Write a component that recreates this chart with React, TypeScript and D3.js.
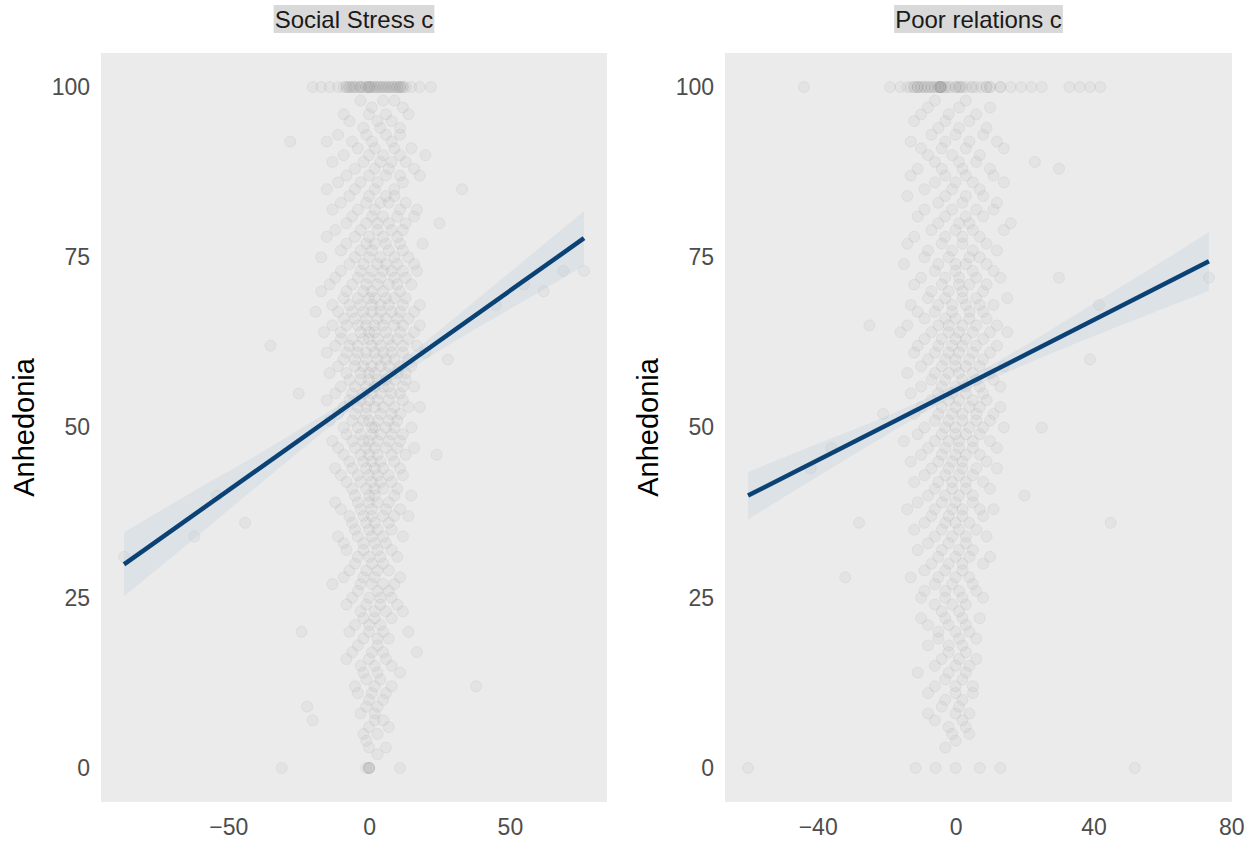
import React, { useEffect, useRef } from 'react';
import * as d3 from 'd3';

// ── Data ────────────────────────────────────────────────────────────────────
const yTicks = [0, 25, 50, 75, 100];
const stressTicks = [-50, 0, 50];
const relationsTicks = [-40, 0, 40, 80];

// rows: [anhedonia, x values at that level]
const stressRows: [number, number[]][] = [
  [100, [-20, -17, -14, -11, -9, -8, -7, -6, -5, -4, -3, -2, -1, 0, 0, 1, 2, 3, 4, 5, 6, 7, 8, 9, 10, 11, 11, 12, 13, 15, 18, 22]],
  [98, [-3, 5, 9]],
  [97, [1, 12]],
  [95, [-7, 3, 8]],
  [93, [-11, -1, 6, 11]],
  [91, [-4, 2, 9, 15]],
  [89, [-13, -2, 4, 8, 13]],
  [87, [-8, 0, 6, 11, 18]],
  [85, [-15, -5, 2, 9]],
  [83, [-10, -1, 4, 7, 13]],
  [81, [-6, 1, 5, 10, 16]],
  [79, [-12, -3, 3, 8, 12]],
  [77, [-8, -1, 2, 6, 11, 19]],
  [75, [-17, -5, 0, 4, 9, 14]],
  [73, [-10, -3, 1, 5, 8, 12, 17]],
  [71, [-14, -6, -1, 3, 7, 10, 15]],
  [69, [-9, -4, 0, 2, 6, 9, 13]],
  [67, [-19, -11, -6, -2, 1, 4, 8, 11, 16]],
  [65, [-13, -8, -4, -1, 2, 5, 9, 12, 18]],
  [63, [-10, -6, -2, 0, 3, 7, 10, 14]],
  [61, [-15, -8, -4, -1, 2, 5, 8, 12, 20]],
  [59, [-11, -5, -2, 1, 4, 7, 11, 15]],
  [57, [-7, -3, 0, 3, 6, 9, 13]],
  [55, [-12, -6, -2, 1, 4, 8, 11]],
  [53, [-9, -4, -1, 2, 5, 9, 14, 18]],
  [51, [-14, -6, -2, 0, 3, 7, 10]],
  [49, [-8, -3, 1, 4, 8, 12]],
  [47, [-11, -5, -1, 2, 6, 10, 16]],
  [45, [-7, -2, 1, 4, 9]],
  [43, [-10, -4, 0, 3, 7, 12]],
  [41, [-6, -1, 2, 5, 10]],
  [39, [-12, -4, 0, 3, 7]],
  [37, [-7, -2, 1, 5, 9, 14]],
  [35, [-5, 0, 3, 8]],
  [33, [-9, -2, 2, 6]],
  [31, [-4, 0, 4, 10]],
  [29, [-7, -1, 3, 7]],
  [27, [-13, -3, 1, 5, 9]],
  [25, [-6, 0, 4, 8]],
  [23, [-3, 2, 6, 12]],
  [21, [-5, 0, 4]],
  [19, [-2, 3, 7]],
  [17, [-6, 1, 5, 17]],
  [15, [-3, 2, 8]],
  [13, [-1, 4]],
  [11, [-4, 1, 6]],
  [9, [-22, -1, 3]],
  [7, [-20, 2, 5]],
  [5, [-2, 3]],
  [3, [0, 6]],
  [0, [-31, -1, 0, 0, 0, 0, 11]],
];
const stressRowsEven: [number, number[]][] = [
  [100, [-8, -7, -6, -5, -3, -3, -1, 0, 0, 1, 2, 3, 4, 5, 6, 7, 8, 9, 10, 11, 12]],
  [96, [-9, 0, 6, 14]],
  [94, [-2, 4, 11]],
  [92, [-15, -6, 1, 8]],
  [90, [-9, 0, 5, 11, 20]],
  [88, [-5, 2, 7, 16]],
  [86, [-11, -3, 3, 12]],
  [84, [-7, 0, 6, 9]],
  [82, [-13, -4, 2, 11, 17]],
  [80, [-8, -1, 3, 7, 13]],
  [78, [-15, -5, 0, 5, 10]],
  [76, [-10, -3, 1, 7, 12]],
  [74, [-7, -2, 3, 6, 10, 16]],
  [72, [-12, -4, 0, 4, 9, 13]],
  [70, [-17, -8, -2, 1, 5, 11]],
  [68, [-13, -7, -3, 1, 4, 7, 12, 18]],
  [66, [-9, -5, -1, 3, 6, 10, 14]],
  [64, [-16, -10, -3, 0, 2, 6, 11, 16]],
  [62, [-12, -7, -4, 1, 4, 8, 12, 17]],
  [60, [-9, -5, -1, 3, 6, 9, 14]],
  [58, [-14, -8, -3, 0, 2, 6, 10, 13]],
  [56, [-10, -5, -1, 2, 5, 7, 12, 16]],
  [54, [-15, -7, -3, 0, 3, 7, 12]],
  [52, [-11, -5, -1, 4, 8, 11]],
  [50, [-9, -4, 1, 2, 6, 9, 15]],
  [48, [-13, -6, -2, 0, 3, 7, 11]],
  [46, [-9, -3, 0, 3, 8, 13]],
  [44, [-12, -6, -1, 2, 5, 11]],
  [42, [-8, -3, 1, 4, 8]],
  [40, [-5, 0, 2, 9, 15]],
  [38, [-10, -3, 1, 6, 11]],
  [36, [-6, -1, 2, 7]],
  [34, [-11, -4, 1, 5, 12]],
  [32, [-8, -2, 3, 8]],
  [30, [-5, 1, 5]],
  [28, [-9, -2, 2, 11]],
  [26, [-4, 3, 7]],
  [24, [-8, -1, 4, 10]],
  [22, [-2, 2, 8]],
  [20, [-7, 0, 5, 14]],
  [18, [-4, 3]],
  [16, [-8, 0, 6]],
  [14, [-2, 3, 11]],
  [12, [-5, 2, 8]],
  [10, [0, 5]],
  [8, [-3, 2]],
  [6, [0, 7]],
  [4, [-1]],
  [2, [3]],
];
const stressOutliers: [number, number][] = [
  [-87, 31], [-62, 34], [-54, 40], [-44, 36], [-35, 62], [-28, 92], [-25, 55], [-24, 20],
  [25, 80], [24, 46], [28, 60], [33, 85], [38, 12], [45, 68], [55, 71], [62, 70], [69, 73], [76.3, 73],
];
const stressFit: [number, number][] = [[-87, 29.9], [76.3, 77.8]];
const stressBandX = [-87, -60, -40, -20, 0, 20, 40, 60, 76.3];
const stressBandLo = [25.2, 34.4, 41.3, 48.1, 54.6, 60.0, 65.0, 69.8, 73.8];
const stressBandHi = [34.6, 41.2, 45.9, 50.9, 56.2, 62.6, 69.4, 76.2, 81.8];

const relationsRows: [number, number[]][] = [
  [100, [-44, -19, -16, -13, -12, -11, -11, -10, -9, -8, -7, -6, -5, -4.5, -4, -4, -3, -1.5, 0, 1, 1.5, 3, 4.5, 6, 7.5, 9, 9, 10, 13, 16, 19, 22, 25, 33, 36, 39, 42]],
  [98, [-6, 3]],
  [96, [-10, -2, 6]],
  [94, [-5, 1, 9]],
  [92, [-13, -3, 4, 12]],
  [90, [-8, -1, 7]],
  [88, [-11, -4, 2, 10, 30]],
  [86, [-6, 0, 5, 14]],
  [84, [-14, -3, 3, 8]],
  [82, [-9, -1, 6, 11]],
  [80, [-5, 1, 4, 16]],
  [78, [-12, -3, 2, 7]],
  [76, [-8, -1, 5, 12]],
  [74, [-15, -5, 0, 3, 9]],
  [72, [-10, -3, 1, 6, 13]],
  [70, [-7, -2, 2, 8]],
  [68, [-13, -5, -1, 3, 7, 11]],
  [66, [-9, -3, 0, 4, 9]],
  [64, [-16, -7, -2, 1, 5, 10, 15]],
  [62, [-11, -5, -1, 2, 6, 12]],
  [60, [-8, -3, 0, 4, 8]],
  [58, [-14, -6, -2, 1, 5, 10]],
  [56, [-10, -4, 0, 3, 7, 13]],
  [54, [-7, -2, 1, 5, 9]],
  [52, [-12, -5, -1, 2, 6, 11]],
  [50, [-9, -3, 0, 4, 8, 14]],
  [48, [-15, -6, -2, 1, 5, 10]],
  [46, [-10, -4, 0, 3, 7]],
  [44, [-7, -2, 2, 6, 12]],
  [42, [-12, -5, -1, 3, 8]],
  [40, [-8, -3, 1, 5]],
  [38, [-14, -6, -1, 2, 7, 11]],
  [36, [-9, -3, 0, 4]],
  [34, [-6, -1, 3, 9]],
  [32, [-11, -4, 1, 5]],
  [30, [-7, -2, 2, 8]],
  [28, [-13, -5, 0, 4]],
  [26, [-9, -3, 1, 6]],
  [24, [-6, -1, 3]],
  [22, [-10, -3, 2, 7]],
  [20, [-5, 0, 4]],
  [18, [-8, -2, 2]],
  [16, [-4, 1, 6]],
  [14, [-11, -2, 3]],
  [12, [-6, 0, 5]],
  [10, [-3, 2]],
  [8, [-8, 0, 4]],
  [6, [-2, 3]],
  [4, [0]],
  [0, [-60.2, -11.6, -5.8, 0, 7, 13, 52]],
];
const relationsRowsOdd: [number, number[]][] = [
  [100, [-14, -12, -11, -10, -9, -8, -7, -6, -5, -4.4, -4.4, -4.4, -4.4, -3, -2, 0, 1, 2, 5, 10, 13]],
  [97, [-8, 1, 10]],
  [95, [-12, -3, 4]],
  [93, [-7, 0, 8]],
  [91, [-10, -4, 3, 14]],
  [89, [-6, 1, 6]],
  [87, [-13, -3, 3, 11]],
  [85, [-9, -1, 7]],
  [83, [-5, 2, 12]],
  [81, [-11, -3, 3, 8]],
  [79, [-7, 0, 5, 14]],
  [77, [-14, -4, 2, 9]],
  [75, [-9, -2, 4, 7]],
  [73, [-6, 0, 5, 11]],
  [71, [-12, -4, 1, 4, 9]],
  [69, [-8, -3, 2, 6, 15]],
  [67, [-11, -6, -1, 4, 8]],
  [65, [-14, -5, -2, 2, 6, 12]],
  [63, [-9, -4, 0, 3, 8]],
  [61, [-12, -6, -2, 1, 5, 10]],
  [59, [-10, -4, 0, 3, 7, 14]],
  [57, [-7, -3, 2, 6, 11]],
  [55, [-13, -5, -1, 3, 8]],
  [53, [-10, -4, 0, 4, 7, 13]],
  [51, [-6, -2, 2, 6, 10]],
  [49, [-11, -4, 0, 3, 7]],
  [47, [-8, -3, 1, 5, 12]],
  [45, [-13, -5, -1, 2, 9]],
  [43, [-9, -3, 1, 5]],
  [41, [-6, -1, 3, 10]],
  [39, [-11, -4, 0, 5]],
  [37, [-7, -2, 2, 8]],
  [35, [-12, -4, 1, 6]],
  [33, [-8, -2, 3]],
  [31, [-5, 0, 4, 10]],
  [29, [-9, -3, 2]],
  [27, [-6, -1, 5]],
  [25, [-10, -3, 2, 8]],
  [23, [-4, 1]],
  [21, [-8, -2, 3]],
  [19, [-5, 1, 6]],
  [17, [-2, 3]],
  [15, [-6, 0, 4]],
  [13, [-3, 2]],
  [11, [-8, 0, 5]],
  [9, [-4, 1]],
  [7, [-6, 2]],
  [5, [-1, 4]],
  [3, [-3]],
];
const relationsOutliers: [number, number][] = [
  [-36, 47], [-32, 28], [-28, 36], [-21, 52], [-25, 65], [-42, 44],
  [20, 40], [25, 50], [23, 89], [39, 60], [41.6, 68], [30, 72], [45, 36], [73.5, 72],
];
const relationsFit: [number, number][] = [[-60.2, 40.0], [73.5, 74.4]];
const relationsBandX = [-60.2, -40, -20, 0, 20, 40, 60, 73.5];
const relationsBandLo = [36.5, 42.8, 48.9, 54.7, 59.2, 63.4, 67.4, 70.1];
const relationsBandHi = [43.5, 47.6, 51.7, 56.3, 62.0, 68.2, 74.4, 78.7];

// ── Layout ──────────────────────────────────────────────────────────────────
const W = 1259;
const H = 843;
const TOP = 53;
const BOTTOM = 802;
const FONT = '"Liberation Sans", Arial, Helvetica, sans-serif';

function textWidth(text: string, font: string) {
  const ctx = document.createElement('canvas').getContext('2d')!;
  ctx.font = font;
  return ctx.measureText(text).width;
}

interface PanelProps {
  title: string;
  left: number;
  right: number;
  rows: [number, number[]][];
  outliers: [number, number][];
  fit: [number, number][];
  bandX: number[];
  bandLo: number[];
  bandHi: number[];
  xTicks: number[];
}

function Panel(p: PanelProps) {
  const xAxisRef = useRef<SVGGElement>(null);
  const yAxisRef = useRef<SVGGElement>(null);

  const points: [number, number][] = [
    ...p.rows.flatMap(([yv, xs]) => xs.map((xv) => [xv, yv] as [number, number])),
    ...p.outliers,
  ];

  const [xmin, xmax] = d3.extent(points, (d) => d[0]) as [number, number];
  const pad = (xmax - xmin) * 0.05;
  const x = d3.scaleLinear().domain([xmin - pad, xmax + pad]).range([p.left, p.right]);
  const y = d3.scaleLinear().domain([-5, 105]).range([BOTTOM, TOP]);

  useEffect(() => {
    const xa = d3.axisBottom(x).tickValues(p.xTicks).tickSize(0).tickPadding(17);
    d3.select(xAxisRef.current!)
      .call(xa as any)
      .call((g) => g.select('.domain').remove())
      .selectAll('text')
      .attr('font-size', 23)
      .attr('font-family', FONT)
      .attr('fill', '#4d4d4d');

    const ya = d3.axisLeft(y).tickValues(yTicks).tickSize(0).tickPadding(11);
    d3.select(yAxisRef.current!)
      .call(ya as any)
      .call((g) => g.select('.domain').remove())
      .selectAll('text')
      .attr('font-size', 23)
      .attr('font-family', FONT)
      .attr('fill', '#4d4d4d');
  }, []);

  const band = d3
    .area<number>()
    .x((_, i) => x(p.bandX[i]))
    .y0((_, i) => y(p.bandLo[i]))
    .y1((_, i) => y(p.bandHi[i]))
    .curve(d3.curveMonotoneX);
  const line = d3
    .line<[number, number]>()
    .x((d) => x(d[0]))
    .y((d) => y(d[1]));

  const cx = (p.left + p.right) / 2;
  const tw = textWidth(p.title, `24px ${FONT}`);

  return (
    <g>
      <rect x={p.left} y={TOP} width={p.right - p.left} height={BOTTOM - TOP} fill="#ebebeb" />
      {points.map((d, i) => (
        <circle
          key={i}
          cx={x(d[0])}
          cy={y(d[1])}
          r={5.5}
          fill="rgba(150,150,150,0.09)"
          stroke="rgba(130,130,130,0.1)"
          strokeWidth={1}
        />
      ))}
      <path d={band(p.bandX) ?? ''} fill="#aec3d9" fillOpacity={0.22} />
      <path d={line(p.fit) ?? ''} fill="none" stroke="#0b4275" strokeWidth={4.5} />

      <g ref={xAxisRef} transform={`translate(0,${BOTTOM})`} />
      <g ref={yAxisRef} transform={`translate(${p.left},0)`} />

      {/* title strip hugging the text */}
      <rect x={cx - tw / 2 - 1} y={5} width={tw + 2} height={28} fill="#d9d9d9" />
      <text x={cx} y={28} textAnchor="middle" fontSize={24} fontFamily={FONT} fill="#1a1a1a">
        {p.title}
      </text>

      <text
        transform={`translate(${p.left - 67},${(TOP + BOTTOM) / 2}) rotate(-90)`}
        textAnchor="middle"
        fontSize={29}
        fontFamily={FONT}
        fill="#000"
      >
        Anhedonia
      </text>
    </g>
  );
}

export default function App() {
  return (
    <svg
      width={W}
      height={H}
      style={{ position: 'absolute', left: 0, top: 0, background: '#fff' }}
    >
      <Panel
        title="Social Stress c"
        left={101}
        right={607}
        rows={[...stressRows, ...stressRowsEven]}
        outliers={stressOutliers}
        fit={stressFit}
        bandX={stressBandX}
        bandLo={stressBandLo}
        bandHi={stressBandHi}
        xTicks={stressTicks}
      />
      <Panel
        title="Poor relations c"
        left={725}
        right={1232}
        rows={[...relationsRows, ...relationsRowsOdd]}
        outliers={relationsOutliers}
        fit={relationsFit}
        bandX={relationsBandX}
        bandLo={relationsBandLo}
        bandHi={relationsBandHi}
        xTicks={relationsTicks}
      />
    </svg>
  );
}
